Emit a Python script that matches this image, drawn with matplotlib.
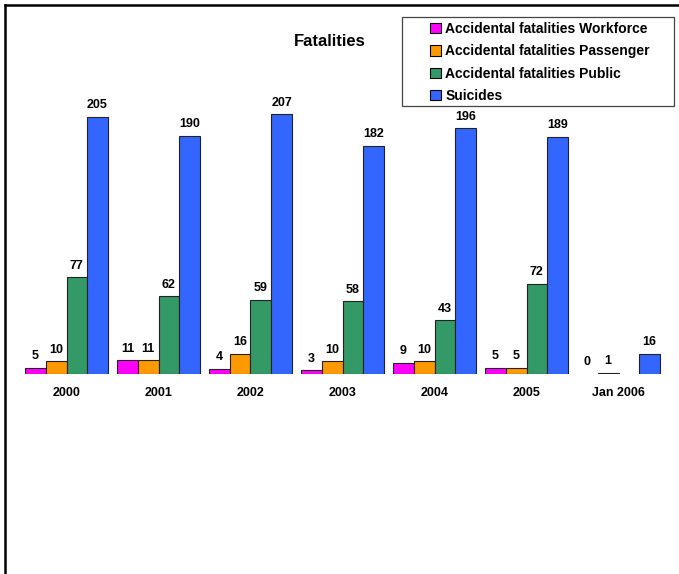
import numpy as np
import matplotlib
matplotlib.use("Agg")
import matplotlib.pyplot as plt
from matplotlib.lines import Line2D
from matplotlib.patches import Rectangle

plt.rcParams["font.family"] = ["Liberation Sans", "DejaVu Sans"]

years = ["2000", "2001", "2002", "2003", "2004", "2005", "Jan 2006"]
workforce = [5, 11, 4, 3, 9, 5, 0]
passenger = [10, 11, 16, 10, 10, 5, 1]
public = [77, 62, 59, 58, 43, 72, None]
suicides = [205, 190, 207, 182, 196, 189, 16]

series = [
    ("Accidental fatalities Workforce", workforce, "#FF00FF"),
    ("Accidental fatalities Passenger", passenger, "#FF9900"),
    ("Accidental fatalities Public", public, "#339966"),
    ("Suicides", suicides, "#3366FF"),
]

W, H = 679, 574
fig = plt.figure(figsize=(W / 100, H / 100), dpi=100)

# axes placed in pixel terms: baseline at y=374, x centres 66.5 + 92*i
ax_left = 20.5 / W
ax_right = 664.5 / W
ax_bottom = (H - 374) / H
ymax = 250
ax_height = ymax * 1.254 / H
ax = fig.add_axes([ax_left, ax_bottom, ax_right - ax_left, ax_height])

x = np.arange(len(years))
bw = 0.225
handles = []
for k, (name, vals, col) in enumerate(series):
    off = (k - 1.5) * bw
    for i, v in enumerate(vals):
        if v is None:
            continue
        lw = 0.8 if v > 0 else 0
        ax.bar(x[i] + off, v, bw, color=col, edgecolor="#222222", linewidth=lw)
        ax.annotate(str(v), (x[i] + off, v), xytext=(0, 4), textcoords="offset points",
                    ha="center", va="bottom", fontsize=9, fontweight="bold")
    handles.append(Rectangle((0, 0), 1, 1, facecolor=col, edgecolor="black", linewidth=0.8))

ax.set_xlim(-0.5, len(years) - 0.5)
ax.set_ylim(0, ymax)
ax.set_xticks(x)
ax.set_xticklabels(years, fontsize=9, fontweight="bold")
ax.tick_params(axis="x", length=0, pad=9)
ax.set_yticks([])
for s in ax.spines.values():
    s.set_visible(False)
ax.patch.set_alpha(0)

fig.text(330 / W, 1 - 42 / H, "Fatalities", ha="center", va="center",
         fontsize=12, fontweight="bold")

# legend without its own frame; frame drawn separately to get the wide padding
leg = fig.legend(handles, [s[0] for s in series], loc="upper left",
                 bbox_to_anchor=(430 / W, 1 - 22 / H), frameon=False,
                 prop={"weight": "bold", "size": 10}, handlelength=0.8,
                 handleheight=0.8, handletextpad=0.3, borderpad=0.0,
                 labelspacing=0.6, borderaxespad=0)
fig.add_artist(Rectangle((402 / W, 1 - 106 / H), 272 / W, 89 / H, fill=False,
                         edgecolor="#444444", linewidth=0.9, transform=fig.transFigure))

# outer frame: top and left lines only
fig.add_artist(Line2D([5 / W, 1], [1 - 5 / H, 1 - 5 / H], color="black", linewidth=1.8,
                      transform=fig.transFigure))
fig.add_artist(Line2D([5 / W, 5 / W], [0, 1 - 5 / H], color="black", linewidth=1.8,
                      transform=fig.transFigure))

fig.savefig("out.png", dpi=100)
